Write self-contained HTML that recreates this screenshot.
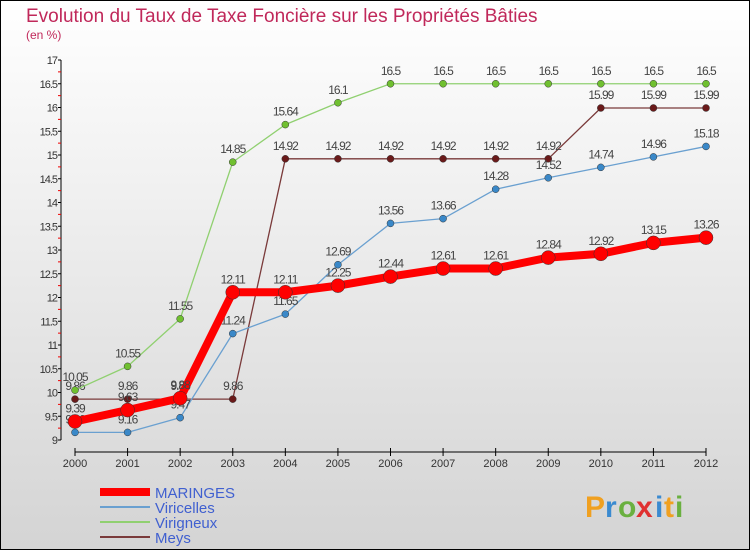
<!DOCTYPE html>
<html><head><meta charset="utf-8"><style>
body{margin:0}
#c{width:750px;height:550px;position:relative;overflow:hidden}
text{font-family:"Liberation Sans",sans-serif}
</style></head><body>
<div id="c">
<svg id="s" width="750" height="550" xmlns="http://www.w3.org/2000/svg">
<defs><linearGradient id="bg" x1="0" y1="0" x2="0" y2="1"><stop offset="0" stop-color="#ffffff"/><stop offset="1" stop-color="#d4d4d4"/></linearGradient></defs>
<rect x="0.5" y="0.5" width="749" height="549" fill="url(#bg)" stroke="#000"/>
<text x="26" y="22" font-size="19" fill="#c0285a">Evolution du Taux de Taxe Foncière sur les Propriétés Bâties</text>
<text x="26" y="39" font-size="12" fill="#c0285a">(en %)</text>
<g id="axes"></g><g id="series"></g><g id="legend"></g>
<g font-size="30" font-weight="bold">
<text x="585" y="517" fill="#f0a020">P</text><text x="605" y="517" fill="#3a8ad0">r</text><text x="618" y="517" fill="#6ab040">o</text><text x="636" y="517" fill="#e03030">x</text><text x="655" y="517" fill="#3a8ad0">i</text><text x="664" y="517" fill="#f0a020">t</text><text x="675" y="517" fill="#6ab040">i</text>
</g>
</svg></div>
<script>
const years=[2000,2001,2002,2003,2004,2005,2006,2007,2008,2009,2010,2011,2012];
const yTicks=[9,9.5,10,10.5,11,11.5,12,12.5,13,13.5,14,14.5,15,15.5,16,16.5,17];
const maringes=[9.39,9.63,9.88,12.11,12.11,12.25,12.44,12.61,12.61,12.84,12.92,13.15,13.26];
const viricelles=[9.16,9.16,9.47,11.24,11.65,12.69,13.56,13.66,14.28,14.52,14.74,14.96,15.18];
const virigneux=[10.05,10.55,11.55,14.85,15.64,16.1,16.5,16.5,16.5,16.5,16.5,16.5,16.5];
const meys=[9.86,9.86,9.86,9.86,14.92,14.92,14.92,14.92,14.92,14.92,15.99,15.99,15.99];
const NS="http://www.w3.org/2000/svg";
const X=i=>75+i*(706-75)/12;
const Y=v=>440-(v-9)*(380/8);
function mk(p,t,a){const e=document.createElementNS(NS,t);for(const k in a)e.setAttribute(k,a[k]);p.appendChild(e);return e;}
const ax=document.getElementById('axes');
let l=mk(ax,'line',{x1:61,y1:60,x2:61,y2:440,stroke:'#000'});

l=mk(ax,'line',{x1:75,y1:452,x2:706,y2:452,stroke:'#000'});

yTicks.forEach((v,i)=>{mk(ax,'line',{x1:58,y1:Y(v),x2:61,y2:Y(v),stroke:'#000'});
 if(i<yTicks.length-1)mk(ax,'line',{x1:58,y1:Y(v+0.25),x2:61,y2:Y(v+0.25),stroke:'#e00'});
 const t=mk(ax,'text',{x:57,y:Y(v)+4,'font-size':11,'text-anchor':'end',fill:'#333','letter-spacing':'-1'});t.textContent=v;
 });
years.forEach((y,i)=>{mk(ax,'line',{x1:X(i),y1:448,x2:X(i),y2:456,stroke:'#000'});
 const t=mk(ax,'text',{x:X(i),y:467,'font-size':11,'text-anchor':'middle',fill:'#333'});t.textContent=y;
 });
const sg=document.getElementById('series');
function draw(name,data,col,dot,w,r,fs,tc){
 const g=mk(sg,'g',{});
 mk(g,'polyline',{points:data.map((v,i)=>X(i)+','+Y(v)).join(' '),fill:'none',stroke:col,'stroke-width':w,'stroke-linejoin':'round'});
 data.forEach((v,i)=>{const c=mk(g,'circle',{cx:X(i),cy:Y(v),r:r,fill:dot,stroke:'#333','stroke-width':0.5});
  
  const t=mk(g,'text',{x:X(i),y:Y(v)-9,'font-size':fs,'text-anchor':'middle',fill:tc,'letter-spacing':'-1'});t.textContent=v;
  });
}
draw('meys',meys,'#7a3a3a','#6a1a1a',1.3,3.5,12,'#444');
draw('virigneux',virigneux,'#90d070','#70c030',1.3,3.5,12,'#444');
draw('viricelles',viricelles,'#6aa0d0','#3a88c8',1.3,3.5,12,'#444');
draw('maringes',maringes,'#ff0000','#ff0000',8,7,12,'#444');
const lg=document.getElementById('legend');
const leg=[['MARINGES','#ff0000',8],['Viricelles','#6aa0d0',2],['Virigneux','#90d070',2],['Meys','#7a3a3a',2]];
leg.forEach((e,i)=>{const g=mk(lg,'g',{});
 const y=492+i*15;mk(g,'line',{x1:100,y1:y,x2:150,y2:y,stroke:e[1],'stroke-width':e[2]});
 const t=mk(g,'text',{x:155,y:y+6,'font-size':15,fill:'#4060d0'});t.textContent=e[0];});
</script>
</body></html>
